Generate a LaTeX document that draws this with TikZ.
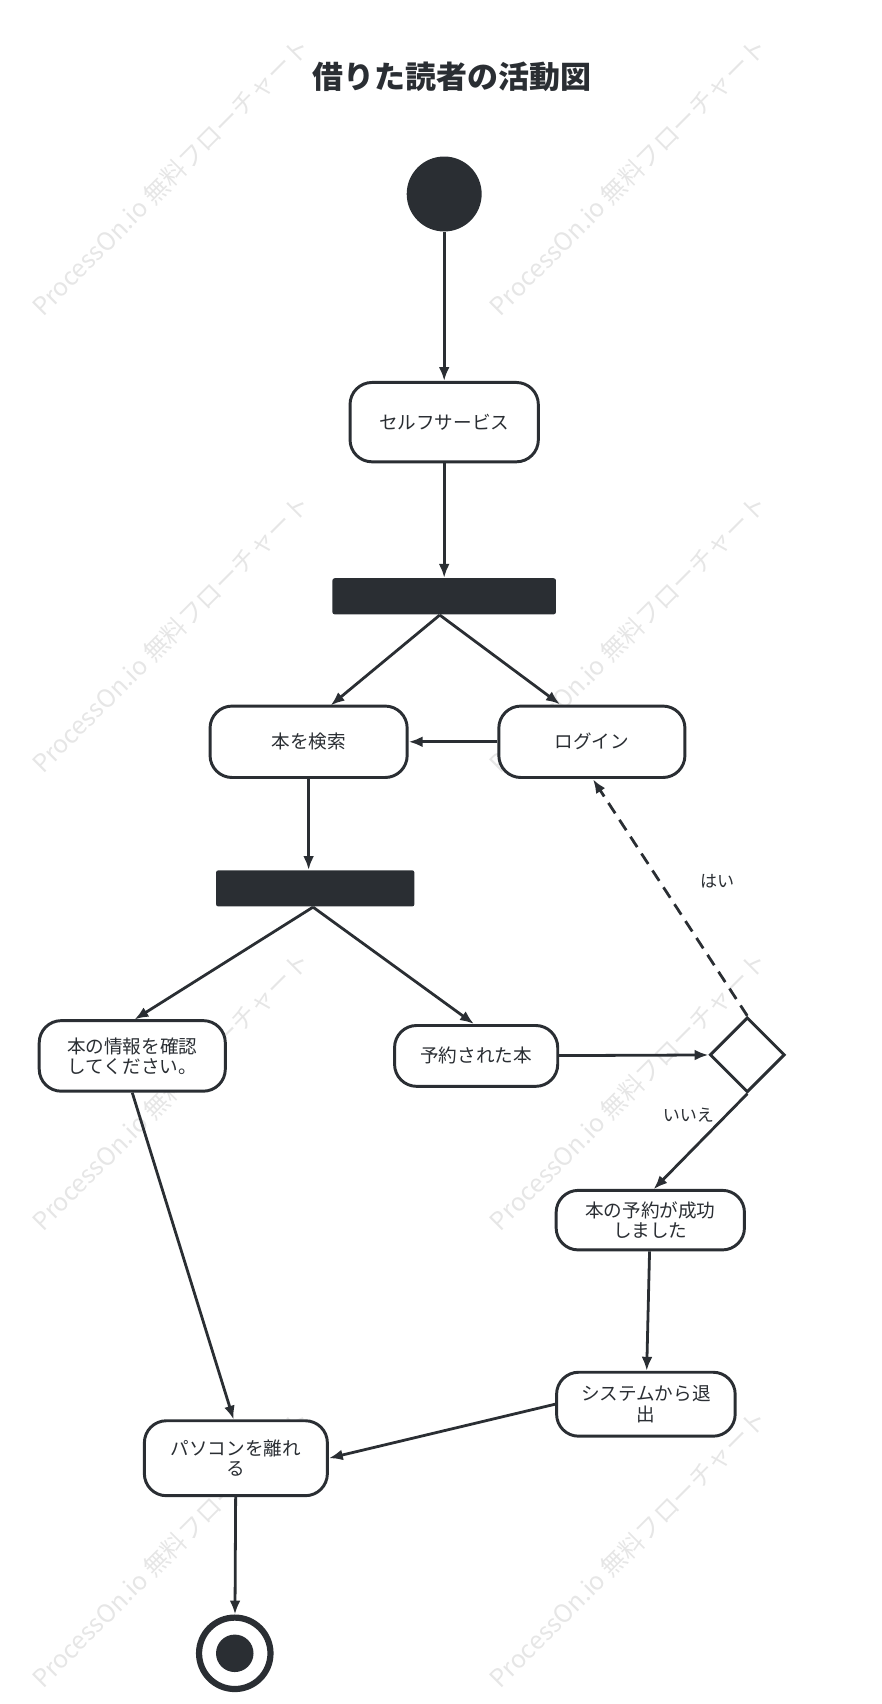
\documentclass[tikz,border=0pt]{standalone}
\usepackage{fontspec}
\setmainfont{Noto Sans CJK JP}
\usetikzlibrary{arrows.meta,shapes.geometric}
\definecolor{ink}{HTML}{2A2E33}
\definecolor{wm}{HTML}{E6E6E6}
\begin{document}
\begin{tikzpicture}[x=0.025cm,y=-0.025cm,
  act/.style={draw=ink,line width=1.9pt,rounded corners=0.5cm,fill=white,align=center,font=\fontsize{12}{13}\selectfont,text=ink,inner sep=0pt},
  bar/.style={fill=ink,rounded corners=1.5pt,inner sep=0pt},
  arr/.style={draw=ink,line width=1.8pt,-{Latex[length=9pt,width=7pt]}},
  lab/.style={font=\fontsize{11}{12}\selectfont,text=ink},
  wmk/.style={text=wm,rotate=45,font=\fontsize{16}{20}\selectfont}]
\useasboundingbox (0,0) rectangle (800,1546);
\foreach \x in {155,570}\foreach \y in {160,575,990,1405}
  \node[wmk] (w\x\y) at (\x,\y) {ProcessOn.io 無料フローチャート};
\node[font=\fontsize{20}{22}\selectfont\bfseries,text=ink] (title) at (410,70) {借りた読者の活動図};
\node[circle,fill=ink,minimum size=1.7cm,inner sep=0pt] (start) at (403,176) {};
\node[act,minimum width=4.27cm,minimum height=1.8cm] (self) at (403,383) {セルフサービス};
\node[bar,minimum width=5.07cm,minimum height=0.82cm] (bar1) at (403,541) {};
\node[act,minimum width=4.47cm,minimum height=1.62cm] (search) at (280,673) {本を検索};
\node[act,minimum width=4.22cm,minimum height=1.62cm] (login) at (537,673) {ログイン};
\node[bar,minimum width=4.5cm,minimum height=0.82cm] (bar2) at (286,806) {};
\node[act,minimum width=4.22cm,minimum height=1.6cm] (info) at (120,958) {本の情報を確認\\してください。};
\node[act,minimum width=3.7cm,minimum height=1.38cm] (res) at (432,958) {予約された本};
\node[diamond,draw=ink,line width=1.9pt,fill=white,minimum size=1.7cm,inner sep=0pt] (dec) at (678,957) {};
\node[act,minimum width=4.27cm,minimum height=1.35cm] (ok) at (590,1107) {本の予約が成功\\しました};
\node[act,minimum width=4.05cm,minimum height=1.45cm] (exit) at (586,1274) {システムから退\\出};
\node[act,minimum width=4.15cm,minimum height=1.7cm] (pc) at (214,1323) {パソコンを離れ\\る};
\node[circle,draw=ink,line width=4pt,fill=white,minimum size=1.62cm,inner sep=0pt] (end) at (213,1500) {};
\node[circle,fill=ink,minimum size=0.85cm,inner sep=0pt] (endi) at (213,1500) {};
\draw[arr] (start) -- (self);
\draw[arr] (self) -- (bar1);
\coordinate (b1) at (399,558);
\coordinate (b2) at (284,823);
\draw[arr] (b1) -- (300,640);
\draw[arr] (b1) -- (508,639);
\draw[arr] (login) -- (search);
\draw[arr] (search) -- (search|-bar2.north);
\draw[arr] (b2) -- (122,925);
\draw[arr] (b2) -- (430,929);
\draw[arr] (res) -- (dec);
\draw[arr,dash pattern=on 8pt off 5pt] (dec.north) -- (538,707) node[lab,pos=0.57,right=22pt] {はい};
\draw[arr] (dec.south) -- (593,1079) node[lab,pos=0.22,left=4pt] {いいえ};
\draw[arr] (ok) -- (exit);
\draw[arr] (exit.west) -- (pc.east);
\draw[arr] (info.south) -- (212,1288);
\draw[arr] (pc) -- (end);
\end{tikzpicture}
\end{document}
